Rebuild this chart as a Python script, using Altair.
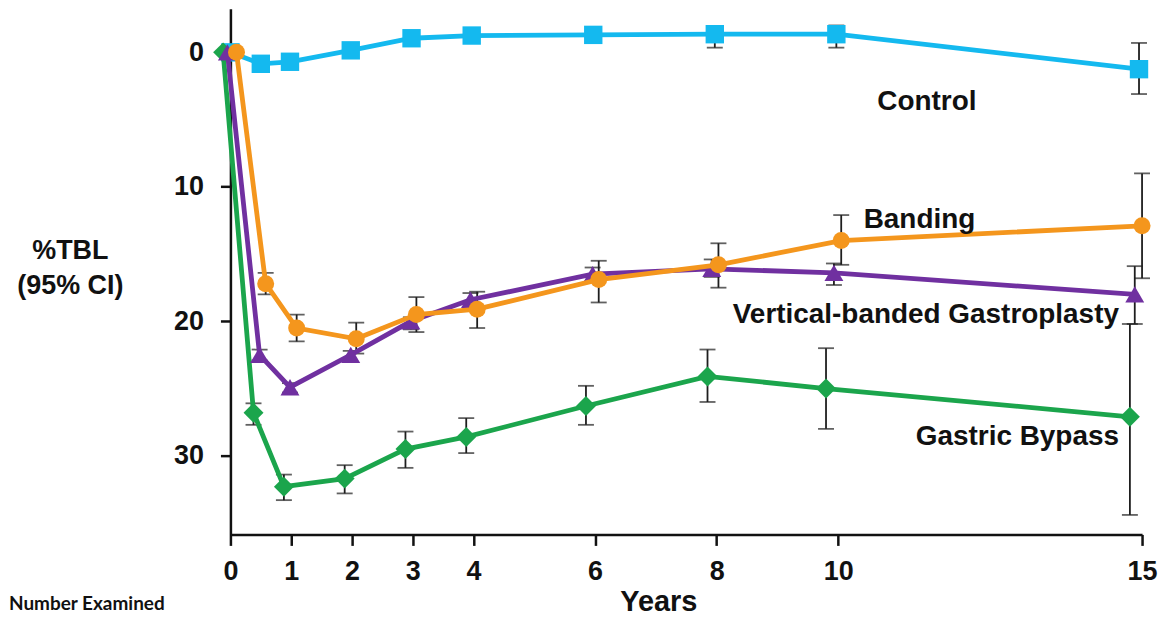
import altair as alt
import pandas as pd

# ---- data ----
series_names = ["Control", "Gastric Bypass", "Vertical-banded Gastroplasty", "Banding"]
series_colors = ["#14b9ef", "#1ba54c", "#7030a0", "#f4961d"]
series_shapes = ["square", "diamond", "triangle-up", "circle"]
series_sizes = [340, 400, 360, 290]

control_x = [0, 0.5, 0.98, 1.98, 2.98, 3.97, 5.97, 7.97, 9.97, 14.95]
control_y = [0, 0.85, 0.7, -0.15, -1.05, -1.25, -1.3, -1.35, -1.35, 1.25]
control_lo = [None, 0.6, 0.45, -0.4, -1.3, -1.5, -1.6, -1.9, -2.0, -0.7]
control_hi = [None, 1.1, 0.95, 0.1, -0.8, -1.0, -1.0, -0.35, -0.35, 3.1]

bypass_x = [-0.12, 0.38, 0.88, 1.88, 2.88, 3.88, 5.85, 7.85, 9.8, 14.8]
bypass_y = [0, 26.8, 32.3, 31.7, 29.5, 28.6, 26.3, 24.1, 25.0, 27.1]
bypass_lo = [None, 26.1, 31.4, 30.7, 28.2, 27.2, 24.8, 22.1, 22.0, 20.2]
bypass_hi = [None, 27.7, 33.3, 32.8, 30.9, 29.8, 27.7, 26.0, 28.0, 34.4]

vbg_x = [-0.05, 0.48, 0.98, 1.98, 2.97, 3.95, 5.96, 7.92, 9.93, 14.88]
vbg_y = [0, 22.5, 24.9, 22.5, 20.0, 18.4, 16.5, 16.1, 16.4, 18.0]
vbg_lo = [None, 22.1, 24.6, 22.2, 19.7, 17.9, 16.0, 15.4, 15.7, 15.9]
vbg_hi = [None, 22.9, 25.3, 23.0, 20.6, 18.6, 17.0, 16.7, 17.3, 20.2]

band_x = [0.1, 0.58, 1.09, 2.07, 3.06, 4.06, 6.06, 8.03, 10.05, 15.0]
band_y = [0, 17.2, 20.5, 21.3, 19.5, 19.1, 16.9, 15.8, 14.0, 12.9]
band_lo = [None, 16.4, 19.5, 20.1, 18.2, 17.8, 15.5, 14.2, 12.1, 9.0]
band_hi = [None, 18.0, 21.5, 22.4, 20.8, 20.5, 18.6, 17.5, 15.8, 16.8]

x_ticks = [0, 1, 2, 3, 4, 6, 8, 10, 15]
y_ticks = [0, 10, 20, 30]

label_text = ["Control", "Banding", "Vertical-banded Gastroplasty", "Gastric Bypass"]
label_x = [11.46, 10.42, 14.62, 14.62]
label_y = [3.73, 12.5, 19.53, 28.6]
label_align = ["center", "left", "right", "right"]

FONT = "Liberation Sans"

xs = [control_x, bypass_x, vbg_x, band_x]
ys = [control_y, bypass_y, vbg_y, band_y]
los = [control_lo, bypass_lo, vbg_lo, band_lo]
his = [control_hi, bypass_hi, vbg_hi, band_hi]

frames = []
for name, x, y, lo, hi in zip(series_names, xs, ys, los, his):
    frames.append(pd.DataFrame({"series": name, "x": x, "y": y, "lo": lo, "hi": hi}))
df = pd.concat(frames, ignore_index=True)
err_df = df.dropna(subset=["lo", "hi"])

x_scale = alt.Scale(domain=[0, 15], nice=False, zero=False)
y_scale = alt.Scale(domain=[-3.24, 35.85], nice=False, zero=False, reverse=True)

x_enc = alt.X(
    "x:Q",
    scale=x_scale,
    axis=alt.Axis(
        values=x_ticks,
        format="d",
        title="Years",
        titleFontSize=29,
        titleFont=FONT,
        titleFontWeight="bold",
        titleColor="#111111",
        titleX=429,
        titleY=76,
        titleBaseline="alphabetic",
        titleAlign="center",
        labelFontSize=27,
        labelFont=FONT,
        labelFontWeight="bold",
        labelColor="#111111",
        labelPadding=13,
        tickSize=11,
        tickWidth=2.5,
        tickColor="#111111",
        domainWidth=2.5,
        domainColor="#111111",
        grid=False,
        labelFlush=False,
    ),
)
y_enc = alt.Y(
    "y:Q",
    scale=y_scale,
    axis=alt.Axis(
        values=y_ticks,
        format="d",
        title=["%TBL", "(95% CI)"],
        titleAngle=0,
        titleAlign="center",
        titleBaseline="middle",
        titleX=-161,
        titleY=242,
        titleFontSize=27,
        titleLineHeight=35,
        titleFont=FONT,
        titleFontWeight="bold",
        titleColor="#111111",
        labelFontSize=27,
        labelFont=FONT,
        labelFontWeight="bold",
        labelColor="#111111",
        labelPadding=17,
        tickSize=10,
        tickWidth=2.5,
        tickColor="#111111",
        domainWidth=2.5,
        domainColor="#111111",
        grid=False,
    ),
)

base = alt.Chart(df)

err_rules = alt.Chart(err_df).mark_rule(color="#1e1e1e", strokeWidth=1.8).encode(
    x=alt.X("x:Q", scale=x_scale), y=alt.Y("lo:Q", scale=y_scale), y2="hi:Q"
)
cap_lo = alt.Chart(err_df).mark_tick(color="#1e1e1e", thickness=1.8, size=16, orient="horizontal").encode(
    x=alt.X("x:Q", scale=x_scale), y=alt.Y("lo:Q", scale=y_scale)
)
cap_hi = alt.Chart(err_df).mark_tick(color="#1e1e1e", thickness=1.8, size=16, orient="horizontal").encode(
    x=alt.X("x:Q", scale=x_scale), y=alt.Y("hi:Q", scale=y_scale)
)

layers = [
    base.mark_point(opacity=0).encode(x=x_enc, y=y_enc),
    err_rules,
    cap_lo,
    cap_hi,
]

for name, color, shape, size in zip(series_names, series_colors, series_shapes, series_sizes):
    sub = base.transform_filter(alt.datum.series == name)
    layers.append(
        sub.mark_line(color=color, strokeWidth=4.8).encode(
            x=alt.X("x:Q", scale=x_scale), y=alt.Y("y:Q", scale=y_scale)
        )
    )
    layers.append(
        sub.mark_point(filled=True, shape=shape, size=size, color=color, opacity=1).encode(
            x=alt.X("x:Q", scale=x_scale), y=alt.Y("y:Q", scale=y_scale)
        )
    )

lab_df = pd.DataFrame({"text": label_text, "x": label_x, "y": label_y, "align": label_align})
for align in ["center", "left", "right"]:
    layers.append(
        alt.Chart(lab_df[lab_df["align"] == align])
        .mark_text(align=align, baseline="middle", fontSize=28, fontWeight="bold", font=FONT, color="#111111")
        .encode(x=alt.X("x:Q", scale=x_scale), y=alt.Y("y:Q", scale=y_scale), text="text:N")
    )

note_df = pd.DataFrame({"text": ["Number Examined"]})
layers.append(
    alt.Chart(note_df)
    .mark_text(align="left", baseline="top", fontSize=19, fontWeight="bold", font="Lato", color="#111111")
    .encode(x=alt.value(-222), y=alt.value(588), text="text:N")
)

chart = (
    alt.layer(*layers)
    .properties(
        width=914,
        height=527,
        padding={"left": 223, "top": 0, "right": 20, "bottom": 83},
        autosize=alt.AutoSizeParams(type="none"),
    )
    .configure_view(stroke=None)
)

chart.save("out.html", embed_options={"renderer": "svg", "actions": False})
